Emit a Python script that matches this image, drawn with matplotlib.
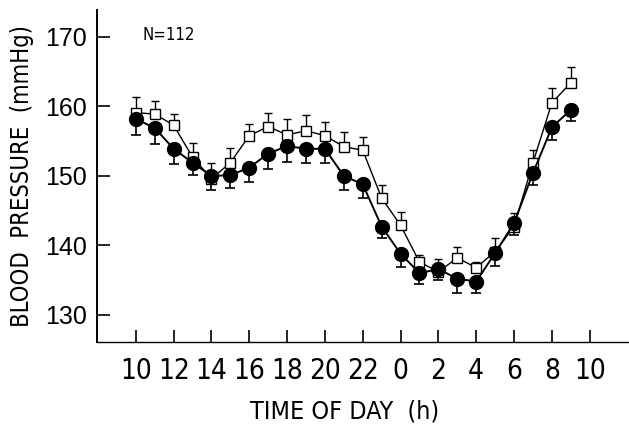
import matplotlib
matplotlib.use("Agg")
import matplotlib.pyplot as plt

# clock hours 10h day 1 ... 9h day 2 (plotted as 10..33)
hours = list(range(10, 34))
tick_pos = list(range(10, 35, 2))
tick_labels = ["10", "12", "14", "16", "18", "20", "22", "0", "2", "4", "6", "8", "10"]

# filled circles (mean) with lower SE
circ = [158.2, 156.9, 153.9, 151.9, 150.0, 150.1, 151.2, 153.2, 154.3, 153.9, 153.9, 150.0,
        148.8, 142.7, 138.8, 136.0, 136.6, 135.2, 134.8, 138.9, 143.2, 150.4, 157.0, 159.5]
circ_err = [2.3, 2.3, 2.2, 1.8, 2.0, 1.8, 2.1, 2.2, 2.3, 2.0, 2.0, 2.0,
            2.0, 1.6, 1.9, 1.5, 1.6, 2.0, 1.6, 1.9, 1.7, 1.7, 1.8, 1.6]

# open squares (mean) with upper SE
sq = [159.1, 158.9, 157.3, 152.7, 149.6, 151.9, 155.8, 157.1, 155.9, 156.5, 155.8, 154.2,
      153.7, 146.8, 142.9, 137.6, 136.2, 138.2, 136.8, 139.1, 142.7, 151.9, 160.5, 163.4]
sq_err = [2.3, 1.9, 1.6, 2.0, 2.3, 2.1, 1.7, 2.0, 2.3, 2.3, 2.0, 2.1,
          1.9, 1.9, 1.9, 1.0, 1.9, 1.6, 0.8, 2.0, 2.0, 1.8, 2.2, 2.3]

cond = dict(family="DejaVu Sans", stretch="condensed")

fig = plt.figure(figsize=(6.29, 4.28), dpi=100)
ax = fig.add_axes([0.154, 0.201, 0.846, 0.776])

zeros = [0] * len(hours)
ax.errorbar(hours, sq, yerr=[zeros, sq_err], fmt="-", color="black", lw=1.0,
            marker="s", ms=7.5, mfc="white", mec="black", mew=1.0,
            elinewidth=1.0, capsize=3, capthick=1.0, zorder=2)
ax.errorbar(hours, circ, yerr=[circ_err, zeros], fmt="-", color="black", lw=1.4,
            marker="o", ms=10, mfc="black", mec="black",
            elinewidth=1.2, capsize=3.5, capthick=1.2, zorder=3)

ax.set_xlim(7.94, 36.08)
ax.set_ylim(126.1, 173.9)

ax.set_xticks(tick_pos)
ax.set_xticklabels(tick_labels, fontsize=20, **cond)
ax.set_yticks([130, 140, 150, 160, 170])
ax.set_yticklabels(["130", "140", "150", "160", "170"], fontsize=18, family="Liberation Sans")
ax.tick_params(axis="x", direction="in", length=9, width=1.2, pad=11)
ax.tick_params(axis="y", direction="in", length=9, width=1.2, pad=7)

for s in ["top", "right"]:
    ax.spines[s].set_visible(False)
ax.spines["left"].set_linewidth(1.4)
ax.spines["bottom"].set_linewidth(1.0)

ax.set_xlabel("TIME OF DAY  (h)", fontsize=18, labelpad=10, **cond)
ax.xaxis.label.set_x(0.466)
ax.set_ylabel("BLOOD  PRESSURE  (mmHg)", fontsize=17, labelpad=8, **cond)

ax.text(0.085, 0.925, "N=112", transform=ax.transAxes, fontsize=12, va="center", ha="left", **cond)

fig.savefig("out.png", dpi=100)
